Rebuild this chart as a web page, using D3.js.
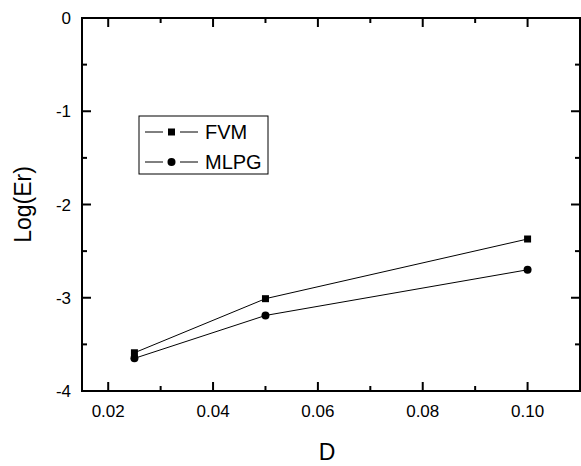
<!DOCTYPE html>
<html>
<head>
<meta charset="utf-8">
<script src="https://cdn.jsdelivr.net/npm/d3@7"></script>
<style>
  body { margin: 0; background: #fff; }
  text { font-family: Arial, "Liberation Sans", sans-serif; }
</style>
</head>
<body>
<div id="chart-area"></div>
<script>
// data
const dValues = [0.025, 0.05, 0.1];
const fvm = [-3.59, -3.01, -2.37];
const mlpg = [-3.65, -3.19, -2.70];
const xTicks = [0.02, 0.04, 0.06, 0.08, 0.10];
const yTicks = [0, -1, -2, -3, -4];

const width = 581, height = 466;
const margin = { top: 18, right: 1, bottom: 75, left: 82 };

const svg = d3.select("#chart-area").append("svg")
  .attr("width", width)
  .attr("height", height);

const x = d3.scaleLinear().domain([0.015, 0.11]).range([margin.left, width - margin.right]);
const y = d3.scaleLinear().domain([-4, 0]).range([height - margin.bottom, margin.top]);

const x0 = x.range()[0], x1 = x.range()[1];
const y0 = y.range()[0], y1 = y.range()[1];

// minor ticks
const xMinor = d3.range(0.03, 0.11, 0.02);
const yMinor = d3.range(-3.5, 0, 1);

function tickLines(g, vals, scale, orient, len) {
  vals.forEach(v => {
    if (orient === "bottom") g.append("line").attr("x1", scale(v)).attr("x2", scale(v)).attr("y1", y0).attr("y2", y0 - len);
    if (orient === "top") g.append("line").attr("x1", scale(v)).attr("x2", scale(v)).attr("y1", y1).attr("y2", y1 + len);
    if (orient === "left") g.append("line").attr("y1", scale(v)).attr("y2", scale(v)).attr("x1", x0).attr("x2", x0 + len);
    if (orient === "right") g.append("line").attr("y1", scale(v)).attr("y2", scale(v)).attr("x1", x1).attr("x2", x1 - len);
  });
}

const ticks = svg.append("g").attr("stroke", "#000").attr("stroke-width", 2);
tickLines(ticks, xTicks, x, "bottom", 9);
tickLines(ticks, xTicks, x, "top", 9);
tickLines(ticks, xMinor, x, "bottom", 5);
tickLines(ticks, xMinor, x, "top", 5);
tickLines(ticks, yTicks.slice(1, 4), y, "left", 9);
tickLines(ticks, yTicks.slice(1, 4), y, "right", 9);
tickLines(ticks, yMinor, y, "left", 5);
tickLines(ticks, yMinor, y, "right", 5);

// frame
svg.append("rect")
  .attr("x", x0).attr("y", y1)
  .attr("width", x1 - x0).attr("height", y0 - y1)
  .attr("fill", "none").attr("stroke", "#000").attr("stroke-width", 2);

// tick labels
svg.append("g").selectAll("text").data(xTicks).enter().append("text")
  .attr("x", d => x(d))
  .attr("y", y0 + 26)
  .attr("text-anchor", "middle")
  .attr("font-size", 17)
  .text(d => d3.format(".2f")(d));

svg.append("g").selectAll("text").data(yTicks).enter().append("text")
  .attr("x", x0 - 11)
  .attr("y", d => y(d) + 6)
  .attr("text-anchor", "end")
  .attr("font-size", 17)
  .text(d => d);

// axis titles
svg.append("text")
  .attr("x", 327)
  .attr("y", 460)
  .attr("text-anchor", "middle")
  .attr("font-size", 23)
  .text("D");

svg.append("text")
  .attr("transform", "translate(31," + ((y0 + y1) / 2) + ") rotate(-90)")
  .attr("text-anchor", "middle")
  .attr("font-size", 23)
  .text("Log(Er)");

// lines
const line = d3.line().x((d, i) => x(dValues[i])).y(d => y(d));

svg.append("path").datum(fvm).attr("d", line)
  .attr("fill", "none").attr("stroke", "#000").attr("stroke-width", 1);
svg.append("path").datum(mlpg).attr("d", line)
  .attr("fill", "none").attr("stroke", "#000").attr("stroke-width", 1);

svg.append("g").selectAll("rect").data(fvm).enter().append("rect")
  .attr("x", (d, i) => x(dValues[i]) - 3.5)
  .attr("y", d => y(d) - 3.5)
  .attr("width", 7).attr("height", 7)
  .attr("fill", "#000");

svg.append("g").selectAll("circle").data(mlpg).enter().append("circle")
  .attr("cx", (d, i) => x(dValues[i]))
  .attr("cy", d => y(d))
  .attr("r", 4)
  .attr("fill", "#000");

// legend
const legend = svg.append("g").attr("transform", "translate(139,116)");
legend.append("rect")
  .attr("width", 129).attr("height", 58)
  .attr("fill", "#fff").attr("stroke", "#000").attr("stroke-width", 1);

const legendItems = [
  { name: "FVM", marker: "square", dy: 16 },
  { name: "MLPG", marker: "circle", dy: 46 }
];
legendItems.forEach(item => {
  const row = legend.append("g").attr("transform", "translate(0," + item.dy + ")");
  // line broken around the marker
  row.append("line").attr("x1", 6).attr("x2", 24).attr("y1", 0).attr("y2", 0)
    .attr("stroke", "#000").attr("stroke-width", 1);
  row.append("line").attr("x1", 41).attr("x2", 59).attr("y1", 0).attr("y2", 0)
    .attr("stroke", "#000").attr("stroke-width", 1);
  if (item.marker === "square") {
    row.append("rect").attr("x", 32.5 - 3.5).attr("y", -3.5).attr("width", 7).attr("height", 7).attr("fill", "#000");
  } else {
    row.append("circle").attr("cx", 32.5).attr("cy", 0).attr("r", 4).attr("fill", "#000");
  }
  row.append("text").attr("x", 66).attr("y", 7).attr("font-size", 20).text(item.name);
});
</script>
</body>
</html>
